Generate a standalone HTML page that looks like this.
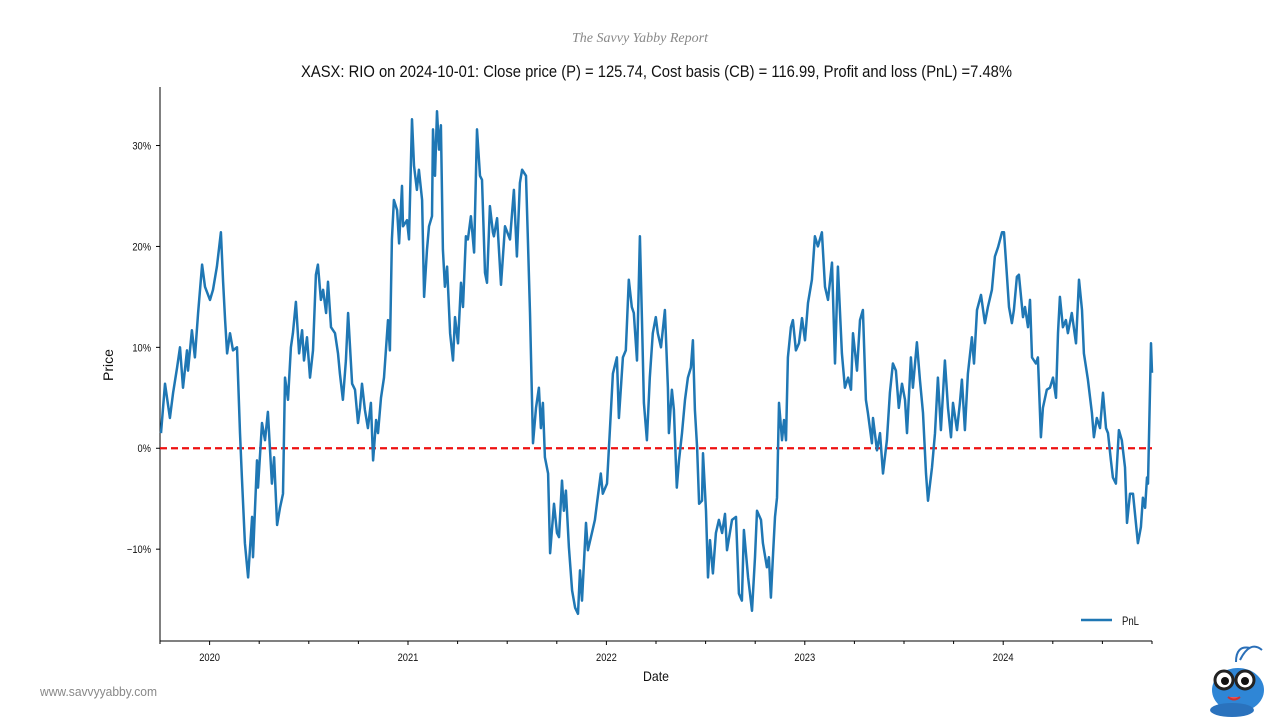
<!DOCTYPE html>
<html><head><meta charset="utf-8">
<style>
html,body{margin:0;padding:0;background:#fff;}
body{width:1280px;height:720px;overflow:hidden;position:relative;font-family:"Liberation Sans",sans-serif;}
svg{position:absolute;left:0;top:0;}
</style></head>
<body>
<svg id="chart" width="1280" height="720" viewBox="0 0 1280 720">
<text x="640" y="42" text-anchor="middle" font-family="Liberation Serif, serif" font-style="italic" font-size="14" fill="#888">The Savvy Yabby Report</text>
<text x="301" y="77" textLength="711" lengthAdjust="spacingAndGlyphs" font-family="Liberation Sans, sans-serif" font-size="17" fill="#111">XASX: RIO on 2024-10-01: Close price (P) = 125.74, Cost basis (CB) = 116.99, Profit and loss (PnL) =7.48%</text>
<text x="113" y="365" text-anchor="middle" transform="rotate(-90 113 365)" font-family="Liberation Sans, sans-serif" font-size="14" fill="#111">Price</text>
<text x="643" y="681" textLength="26" lengthAdjust="spacingAndGlyphs" font-family="Liberation Sans, sans-serif" font-size="14" fill="#111">Date</text>
<text x="40" y="696" textLength="117" lengthAdjust="spacingAndGlyphs" font-family="Liberation Sans, sans-serif" font-size="13" fill="#888">www.savvyyabby.com</text>
<g id="axes"></g>
<g id="series"></g>
<g>
<line x1="1081" y1="620" x2="1112" y2="620" stroke="#1f77b4" stroke-width="2.5"/>
<text x="1122" y="625" textLength="17" lengthAdjust="spacingAndGlyphs" font-family="Liberation Sans, sans-serif" font-size="12" fill="#111">PnL</text>
</g>
<g>
<path d="M1240 660 Q1250 640 1262 650" stroke="#2a6fb8" stroke-width="2" fill="none"/>
<path d="M1236 662 Q1236 645 1250 648" stroke="#2a6fb8" stroke-width="2" fill="none"/>
<ellipse cx="1238" cy="690" rx="26" ry="22" fill="#2f86d6"/>
<ellipse cx="1232" cy="710" rx="22" ry="7" fill="#2a72bd"/>
<circle cx="1224" cy="680" r="9" fill="#fff" stroke="#222" stroke-width="3"/>
<circle cx="1245" cy="680" r="9" fill="#fff" stroke="#222" stroke-width="3"/>
<circle cx="1225" cy="681" r="4" fill="#111"/>
<circle cx="1245" cy="681" r="4" fill="#111"/>
<path d="M1228 697 Q1234 702 1240 697" stroke="#c33" stroke-width="2" fill="#e55"/>
</g>
</svg>
<script>
const dates=[2019.755,2019.775,2019.800,2019.816,2019.836,2019.851,2019.866,2019.886,2019.891,2019.911,2019.926,2019.942,2019.962,2019.977,2020.002,2020.017,2020.037,2020.057,2020.068,2020.078,2020.088,2020.103,2020.118,2020.138,2020.153,2020.163,2020.178,2020.194,2020.214,2020.219,2020.239,2020.244,2020.264,2020.279,2020.294,2020.314,2020.325,2020.340,2020.355,2020.370,2020.380,2020.395,2020.410,2020.420,2020.435,2020.451,2020.466,2020.476,2020.491,2020.506,2020.521,2020.536,2020.546,2020.561,2020.572,2020.587,2020.597,2020.612,2020.632,2020.647,2020.657,2020.672,2020.687,2020.698,2020.718,2020.733,2020.748,2020.758,2020.768,2020.783,2020.798,2020.813,2020.824,2020.839,2020.849,2020.864,2020.879,2020.899,2020.909,2020.919,2020.929,2020.945,2020.955,2020.970,2020.975,2020.995,2021.005,2021.020,2021.030,2021.045,2021.055,2021.071,2021.081,2021.096,2021.106,2021.121,2021.126,2021.136,2021.146,2021.156,2021.166,2021.176,2021.186,2021.197,2021.212,2021.227,2021.237,2021.252,2021.267,2021.277,2021.292,2021.302,2021.317,2021.333,2021.348,2021.363,2021.373,2021.388,2021.398,2021.413,2021.428,
2021.433,2021.449,2021.469,2021.489,2021.514,2021.534,2021.549,2021.564,2021.575,2021.595,2021.605,2021.615,2021.630,2021.645,2021.660,2021.670,2021.680,2021.690,2021.706,2021.716,2021.736,2021.751,2021.761,2021.776,2021.786,2021.796,2021.811,2021.827,2021.842,2021.857,2021.867,2021.877,2021.897,2021.907,2021.927,2021.942,2021.952,2021.972,2021.982,2022.003,2022.018,2022.033,2022.053,2022.063,2022.083,2022.098,2022.103,2022.113,2022.128,2022.138,2022.154,2022.169,2022.179,2022.189,2022.204,2022.219,2022.234,2022.249,2022.259,2022.275,2022.295,2022.310,2022.315,2022.330,2022.340,2022.355,2022.366,2022.381,2022.396,2022.411,2022.426,2022.436,2022.446,2022.457,2022.467,2022.482,2022.487,2022.502,2022.512,2022.522,2022.537,2022.552,2022.567,2022.583,2022.598,2022.608,2022.633,2022.653,2022.668,2022.683,2022.693,2022.714,2022.734,2022.749,2022.759,2022.779,2022.789,2022.809,2022.819,2022.829,2022.840,2022.850,2022.860,2022.870,2022.885,2022.895,2022.905,2022.915,2022.930,2022.940,2022.955,2022.971,2022.986,2023.001,2023.016,2023.036,2023.051,2023.066,
2023.086,2023.102,2023.117,2023.137,2023.152,2023.167,2023.187,2023.202,2023.218,2023.233,2023.243,2023.263,2023.278,2023.293,2023.308,2023.318,2023.338,2023.344,2023.364,2023.379,2023.394,2023.414,2023.429,2023.444,2023.459,2023.474,2023.490,2023.505,2023.515,2023.535,2023.545,2023.565,2023.580,2023.596,2023.611,2023.621,2023.641,2023.656,2023.671,2023.686,2023.706,2023.722,2023.737,2023.747,2023.767,2023.782,2023.792,2023.807,2023.822,2023.842,2023.853,2023.868,2023.888,2023.908,2023.923,2023.943,2023.958,2023.974,2023.994,2024.004,2024.019,2024.029,2024.044,2024.054,2024.069,2024.079,2024.100,2024.110,2024.125,2024.135,2024.145,2024.165,2024.175,2024.190,2024.200,2024.220,2024.236,2024.251,2024.266,2024.276,2024.286,2024.301,2024.316,2024.326,2024.346,2024.367,2024.382,2024.397,2024.407,2024.427,2024.447,2024.457,2024.472,2024.488,2024.503,2024.518,2024.528,2024.543,2024.553,2024.568,2024.583,2024.598,2024.614,2024.624,2024.639,2024.654,2024.674,2024.679,2024.694,2024.704,2024.715,2024.725,2024.730,2024.745,2024.750];
const pnl=[1.5,6.4,3,5.5,8,10,6,9.7,7.7,11.7,9,13.4,18.2,16,14.7,15.7,18,21.4,16.5,12.7,9.4,11.4,9.7,10,1.5,-2.9,-9.4,-12.8,-6.8,-10.8,-1.2,-3.9,2.5,0.8,3.6,-3.5,-0.9,-7.6,-5.9,-4.5,7,4.8,10,11.4,14.5,9.4,11.7,8.7,11,7,9.7,17.2,18.2,14.7,15.7,13.4,16.5,12,11.4,9.4,7.4,4.8,8.7,13.4,6.4,5.8,2.5,4,6.4,3.8,2,4.5,-1.2,2.8,1.5,5,7,12.7,9.7,20.7,24.6,23.6,20.3,26,22,22.6,20.7,32.6,28,25.6,27.6,24.6,15,19.7,22,23,31.6,27,33.4,29.6,32,19.7,16,18,11.4,8.7,13,10.4,16.4,14,21,20.7,23,19.4,31.6,27,26.6,17.4,16.4,24,21.4,
21,22.8,16.2,22,20.7,25.6,19,26.3,27.6,27,20.3,13.4,0.5,4,6,2,4.5,-0.9,-2.5,-10.4,-5.5,-8.4,-8.8,-3.2,-6.2,-4.2,-9.8,-14.1,-15.8,-16.4,-12.1,-15.1,-7.4,-10.1,-8.4,-7.1,-5.5,-2.5,-4.5,-3.5,2,7.4,9,3,9,9.7,12,16.7,14,13.4,8.7,21,13,4.5,0.8,7,11.4,13,11.4,10,13.7,6,1.5,5.8,3.8,-3.9,-1.2,1.5,4.8,7,8,10.7,3.8,0.1,-5.5,-5.2,-0.5,-6.2,-12.8,-9.1,-12.4,-8.4,-7.1,-8.4,-6.5,-10.1,-7.1,-6.8,-14.4,-15.1,-8.1,-12.8,-16.1,-10.8,-6.2,-7.1,-9.4,-11.8,-10.8,-14.8,-10.4,-6.8,-4.9,4.5,0.8,2.8,0.8,9,12,12.7,9.7,10.4,12.9,10.7,14.4,16.7,21,20,
21.4,16,14.7,18.4,8.4,18,9.4,6,7,5.8,11.4,7.7,12.7,13.7,4.8,3.5,0.5,3,-0.2,1.5,-2.5,0.8,5.5,8.4,7.7,4,6.4,4.8,1.5,9,6,10.5,6.8,3.5,-2.5,-5.2,-1.9,1.5,7,1.8,8.7,4,1.1,4.5,1.8,4.5,6.8,1.8,7.4,11,8.4,13.7,15.2,12.4,14,15.7,19,19.9,21.4,21.4,17,14,12.4,13.7,17,17.2,13,14,12,14.7,9,8.4,9,1.1,4,5.8,6,7,5,11.4,15,12,12.7,11.4,13.4,10.4,16.7,13.7,9.4,6.8,3.5,1.1,3,2,5.5,2,1.5,-1.2,-2.9,-3.5,1.8,0.8,-1.9,-7.4,-4.5,-4.5,-8.4,-9.4,-7.8,-4.9,-5.9,-2.9,-3.5,10.4,7.48];
const yTickVals=[-10,0,10,20,30];
const yTickLabels=["\u221210%","0%","10%","20%","30%"];
const xTickYears=[2020,2021,2022,2023,2024];
const xTickLabels=["2020","2021","2022","2023","2024"];
const xMin=2019.75,xMax=2024.75,yMin=-19.1,yMax=35.8;
const L=160,R=1152,T=87,B=641;
function sx(t){return L+(t-xMin)/(xMax-xMin)*(R-L);}
function sy(v){return B-(v-yMin)/(yMax-yMin)*(B-T);}
const NS="http://www.w3.org/2000/svg";
function mk(tag,attrs,parent){const e=document.createElementNS(NS,tag);for(const k in attrs)e.setAttribute(k,attrs[k]);parent.appendChild(e);return e;}
const ax=document.getElementById('axes');
let e=mk('line',{x1:L,y1:T,x2:L,y2:B,stroke:'#000','stroke-width':1},ax);


e=mk('line',{x1:L,y1:B,x2:R,y2:B,stroke:'#000','stroke-width':1},ax);


yTickVals.forEach((v,i)=>{
  const y=sy(v);
  let t=mk('line',{x1:L-4,y1:y,x2:L,y2:y,stroke:'#000','stroke-width':1},ax);
  
  
  let tx=mk('text',{x:L-9,y:y+4,'text-anchor':'end','font-size':11,'font-family':'Liberation Sans, sans-serif',fill:'#111',transform:'translate('+(L-9)+' 0) scale(0.85 1) translate('+(-(L-9))+' 0)'},ax);
  tx.textContent=yTickLabels[i];
  
  
});
for(let q=xMin;q<=xMax+0.001;q+=0.25){
  const isMajor=Math.abs(q-Math.round(q))<0.01;
  let t=mk('line',{x1:sx(q),y1:B,x2:sx(q),y2:B+(isMajor?4:3),stroke:'#000','stroke-width':1},ax);
  
  
}
xTickYears.forEach((yr,i)=>{
  let tx=mk('text',{x:sx(yr),y:B+20,'text-anchor':'middle','font-size':11,'font-family':'Liberation Sans, sans-serif',fill:'#111',transform:'translate('+sx(yr)+' 0) scale(0.85 1) translate('+(-sx(yr))+' 0)'},ax);
  tx.textContent=xTickLabels[i];
  
  
});
const sg=document.getElementById('series');
let zl=mk('line',{x1:L,y1:sy(0),x2:R,y2:sy(0),stroke:'#ee1111','stroke-width':2.2,'stroke-dasharray':'7,4'},sg);


let d='';
for(let i=0;i<dates.length;i++){d+=(i?'L':'M')+sx(dates[i]).toFixed(1)+' '+sy(pnl[i]).toFixed(1);}
let p=mk('path',{d:d,fill:'none',stroke:'#1f77b4','stroke-width':2.5,'stroke-linejoin':'round'},sg);


</script>
</body></html>
